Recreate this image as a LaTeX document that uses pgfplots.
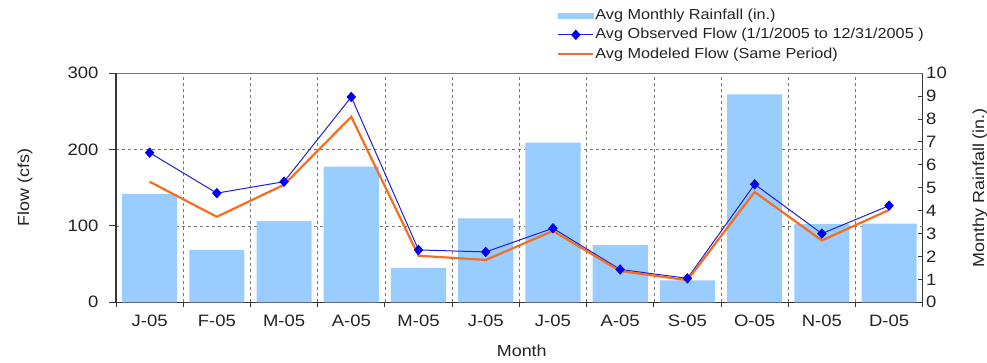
\documentclass[border=0pt]{standalone}
\usepackage{fontspec}
\setmainfont{Liberation Sans}[FakeStretch=1.12]
\usepackage{pgfplots}
\pgfplotsset{compat=1.18}

\definecolor{rainblue}{RGB}{153,204,255}
\definecolor{obsblue}{RGB}{30,30,220}
\definecolor{markblue}{RGB}{0,0,240}
\definecolor{modorange}{RGB}{245,110,30}
\definecolor{gridgray}{RGB}{120,120,120}
\definecolor{axisdark}{RGB}{55,55,55}
\definecolor{textdark}{RGB}{35,35,35}

% monthly values, Jan--Dec 2005
\pgfplotstableread{
m  rain  obs    mod
1  4.73  196    158
2  2.29  143    112
3  3.55  158    154
4  5.92  269    243
5  1.50  68.6   61
6  3.67  66     55.5
7  6.97  97     93.5
8  2.50  43     41
9  0.96  31.4   29
10 9.08  154.6  144.5
11 3.42  90     81
12 3.43  126.6  121
}\monthly

\begin{document}
\begin{tikzpicture}[x=1pt,y=1pt]
\useasboundingbox (0,0) rectangle (987,363);
\pgfplotsset{
  every axis/.append style={
    scale only axis, width=806.7pt, height=229pt,
    at={(116pt,60.7pt)}, anchor=south west,
    xmin=0.5, xmax=12.5,
    /pgf/number format/assume math mode=true,
    tick label style={font=\fontsize{16.5}{19}\selectfont, text=textdark},
    label style={font=\fontsize{16}{19}\selectfont, text=textdark},
    tick style={axisdark, line width=1pt},
    axis line style={axisdark, line width=1.3pt},
  },
}
% rainfall bars on the right-hand scale, with the grid behind them
\begin{axis}[
  axis x line*=bottom, axis y line*=right,
  ymin=0, ymax=10, ytick={0,...,10},
  tick align=inside, major tick length=5pt,
  xtick style={yshift=-5pt},
  xtick={0.5,1.5,...,12.5},
  xticklabels={J-05,F-05,M-05,A-05,M-05,J-05,J-05,A-05,S-05,O-05,N-05,D-05},
  x tick label as interval,
  xticklabel style={yshift=-9pt},
  xmajorgrids,
  extra y ticks={3.33333,6.66667}, extra y tick labels={},
  extra y tick style={grid=major, major tick length=0pt},
  grid style={gridgray, dashed, line width=0.6pt},
  ylabel={Monthy Rainfall (in.)},
  ylabel style={at={(axis description cs:1.071,0.5)}, anchor=center},
  xlabel={Month},
  xlabel style={at={(axis description cs:0.503,-0.2127)}, anchor=center},
]
\addplot[ybar, bar width=0.82, fill=rainblue, draw=none] table[x=m, y=rain] {\monthly};
\draw[gridgray, line width=0.8pt] (rel axis cs:0,1) -- (rel axis cs:1,1);
\end{axis}

% observed and modeled flow on the left-hand scale
\begin{axis}[
  axis y line*=left, axis x line=none,
  ymin=0, ymax=300, ytick={0,100,200,300},
  tick align=outside, major tick length=7pt,
  yticklabel style={xshift=-7pt},
  ylabel={Flow (cfs)},
  ylabel style={at={(axis description cs:-0.1128,0.5)}, anchor=center},
  legend image code/.code={%
    \draw[mark repeat=2, mark phase=2] plot coordinates {(0pt,0pt) (17.5pt,0pt) (35pt,0pt)};},
  legend style={at={(axis description cs:0.5467,1.29)}, anchor=north west,
    draw=none, fill=none, inner sep=0pt, row sep=3pt,
    font=\fontsize{14.5}{17}\selectfont,
    nodes={inner sep=1pt, text height=11pt, text depth=3.5pt, text=textdark}},
  legend cell align=left,
]
\addlegendimage{legend image code/.code={\fill[rainblue] (0pt,-2.5pt) rectangle (35pt,2.5pt);}}
\addlegendentry{Avg Monthly Rainfall (in.)}
\addplot[obsblue, line width=1pt, mark=diamond*, mark size=4.5pt,
  mark options={fill=markblue, draw=markblue, xscale=1.2}] table[x=m, y=obs] {\monthly};
\addlegendentry{Avg Observed Flow (1/1/2005 to 12/31/2005 )}
\addplot[modorange, line width=2.2pt, no marks] table[x=m, y=mod] {\monthly};
\addlegendentry{Avg Modeled Flow (Same Period)}
\end{axis}
\end{tikzpicture}
\end{document}
